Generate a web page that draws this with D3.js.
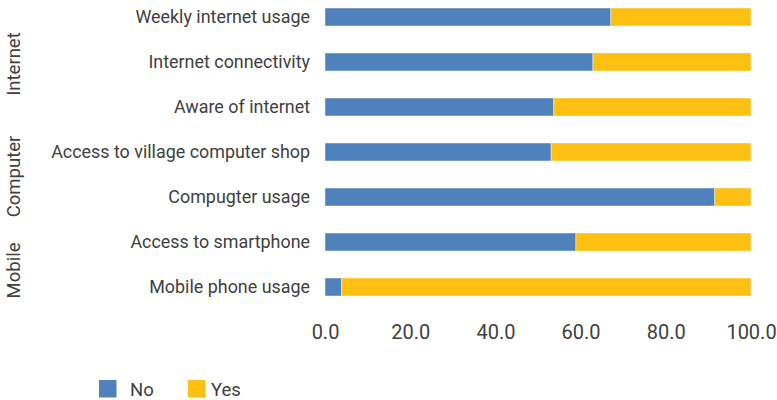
<!DOCTYPE html>
<html>
<head>
<meta charset="utf-8">
<script src="https://cdn.jsdelivr.net/npm/d3@7"></script>
<style>
  html, body { margin: 0; padding: 0; background: #fff; }
  svg { display: block; }
  text { font-family: Roboto, "Noto Sans", sans-serif; fill: #404040; }
</style>
</head>
<body>
<svg id="chart" width="777" height="400"></svg>
<script>
// Survey items, top to bottom
const categories = [
  "Weekly internet usage",
  "Internet connectivity",
  "Aware of internet",
  "Access to village computer shop",
  "Compugter usage",
  "Access to smartphone",
  "Mobile phone usage"
];
// Share of respondents (%) answering No / Yes
const noValues  = [67.1, 62.9, 53.7, 53.1, 91.5, 58.9, 3.9];
const yesValues = [32.9, 37.1, 46.3, 46.9, 8.5, 41.1, 96.1];
// Group headings and the items they cover
const groupNames = ["Internet", "Computer", "Mobile"];
const groupFirst = [0, 3, 5];
const groupLast  = [2, 4, 6];
const seriesNames = ["No", "Yes"];
const seriesColors = ["#4F81BD", "#FDBF12"];
const tickValues = [0, 20, 40, 60, 80, 100];

const svg = d3.select("#chart");

const x = d3.scaleLinear().domain([0, 100]).range([325, 751]);
const y = d3.scaleBand().domain(categories).range([-5.5, 309.5]).paddingInner(0.6).paddingOuter(0.3);

// Stack the two answers for each item
const rows = categories.map((c, i) => ({ cat: c, No: noValues[i], Yes: yesValues[i] }));
const stacked = d3.stack().keys(seriesNames)(rows);

svg.append("g").selectAll("g")
  .data(stacked)
  .join("g")
  .attr("fill", (d, i) => seriesColors[i])
  .selectAll("rect")
  .data(d => d)
  .join("rect")
  .attr("x", d => x(d[0]))
  .attr("width", d => x(d[1]) - x(d[0]))
  .attr("y", d => y(d.data.cat))
  .attr("height", y.bandwidth())
  .attr("stroke", "rgba(255,255,255,0.45)")
  .attr("stroke-width", 1);

// Category labels
const yAxis = d3.axisLeft(y).tickSize(0).tickPadding(15);
const yg = svg.append("g").attr("transform", `translate(${x(0)},0)`).call(yAxis);
yg.select(".domain").remove();
yg.selectAll("text")
  .style("font-size", "17.9px")
  .style("font-family", "Roboto, 'Noto Sans', sans-serif")
  .attr("fill", "#404040")
  .attr("dy", "0.36em");

// Value axis labels
const xAxis = d3.axisBottom(x).tickValues(tickValues).tickFormat(d3.format(".1f")).tickSize(0).tickPadding(0);
const xg = svg.append("g").attr("transform", "translate(0,339)").call(xAxis);
xg.select(".domain").remove();
xg.selectAll("text")
  .attr("dy", 0)
  .style("font-size", "20px")
  .style("font-family", "Roboto, 'Noto Sans', sans-serif")
  .attr("fill", "#404040");

// Rotated group headings, centred on the span of their items
svg.append("g").selectAll("text")
  .data(groupNames)
  .join("text")
  .attr("transform", (d, i) => {
    const top = y(categories[groupFirst[i]]) - y.step() * y.paddingInner() / 2;
    const bottom = y(categories[groupLast[i]]) + y.bandwidth() + y.step() * y.paddingInner() / 2;
    const cy = (top + bottom) / 2 + 2 + (i === groupNames.length - 1 ? 4 : 0);
    return `translate(20,${cy}) rotate(-90)`;
  })
  .attr("text-anchor", "middle")
  .style("font-size", "18.5px")
  .text(d => d);

// Legend
const legend = svg.append("g").selectAll("g")
  .data(seriesNames)
  .join("g")
  .attr("transform", (d, i) => `translate(${99 + i * 89},380)`);
legend.append("rect")
  .attr("width", 17.5)
  .attr("height", 17.5)
  .attr("fill", (d, i) => seriesColors[i]);
legend.append("text")
  .attr("x", (d, i) => (i === 0 ? 31 : 23))
  .attr("y", 16)
  .style("font-size", "18.5px")
  .text(d => d);
</script>
</body>
</html>
